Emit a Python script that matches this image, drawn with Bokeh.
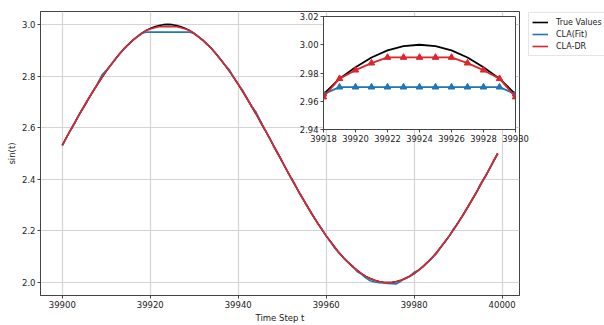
from bokeh.plotting import figure
from bokeh.models import Range1d, FixedTicker, Legend, LegendItem, PrintfTickFormatter
from bokeh.embed import file_html
from bokeh.resources import INLINE

# ---------------- data ----------------
time_steps = list(range(39900, 40000))

true_values = [
    2.531, 2.563, 2.594, 2.624, 2.655, 2.684, 2.713, 2.741, 2.768, 2.794,
    2.819, 2.842, 2.864, 2.885, 2.905, 2.922, 2.938, 2.952, 2.965, 2.976,
    2.984, 2.991, 2.996, 2.999, 3.000, 2.999, 2.996, 2.991, 2.984, 2.976,
    2.965, 2.952, 2.938, 2.922, 2.905, 2.885, 2.864, 2.842, 2.819, 2.794,
    2.768, 2.741, 2.713, 2.684, 2.655, 2.624, 2.594, 2.563, 2.531, 2.500,
    2.469, 2.437, 2.406, 2.376, 2.345, 2.316, 2.287, 2.259, 2.232, 2.206,
    2.181, 2.158, 2.136, 2.114, 2.095, 2.078, 2.062, 2.048, 2.035, 2.024,
    2.016, 2.009, 2.004, 2.001, 2.000, 2.001, 2.004, 2.009, 2.016, 2.024,
    2.035, 2.048, 2.062, 2.078, 2.095, 2.114, 2.136, 2.158, 2.181, 2.206,
    2.232, 2.259, 2.287, 2.316, 2.345, 2.376, 2.406, 2.437, 2.469, 2.500,
]

cla_fit = [
    2.531, 2.563, 2.594, 2.624, 2.655, 2.684, 2.713, 2.741, 2.770, 2.804,
    2.822, 2.842, 2.864, 2.885, 2.905, 2.922, 2.938, 2.952, 2.965, 2.970,
    2.970, 2.970, 2.970, 2.970, 2.970, 2.970, 2.970, 2.970, 2.970, 2.970,
    2.965, 2.952, 2.938, 2.922, 2.905, 2.885, 2.864, 2.842, 2.824, 2.794,
    2.768, 2.745, 2.713, 2.684, 2.662, 2.628, 2.594, 2.563, 2.531, 2.500,
    2.469, 2.437, 2.406, 2.376, 2.345, 2.316, 2.287, 2.259, 2.232, 2.209,
    2.181, 2.158, 2.132, 2.114, 2.095, 2.078, 2.065, 2.043, 2.033, 2.018,
    2.007, 2.002, 2.000, 1.999, 1.997, 1.996, 1.995, 2.006, 2.018, 2.026,
    2.040, 2.048, 2.062, 2.078, 2.095, 2.111, 2.136, 2.158, 2.181, 2.210,
    2.232, 2.259, 2.287, 2.316, 2.345, 2.380, 2.406, 2.437, 2.469, 2.500,
]

cla_dr = [
    2.531, 2.563, 2.594, 2.624, 2.655, 2.684, 2.713, 2.741, 2.768, 2.794,
    2.819, 2.842, 2.864, 2.885, 2.905, 2.922, 2.938, 2.952, 2.963, 2.976,
    2.982, 2.987, 2.991, 2.991, 2.991, 2.991, 2.991, 2.987, 2.982, 2.976,
    2.963, 2.952, 2.938, 2.922, 2.905, 2.885, 2.864, 2.842, 2.819, 2.794,
    2.768, 2.741, 2.713, 2.684, 2.655, 2.624, 2.594, 2.563, 2.531, 2.500,
    2.469, 2.437, 2.406, 2.376, 2.345, 2.316, 2.287, 2.259, 2.232, 2.206,
    2.181, 2.158, 2.136, 2.114, 2.095, 2.078, 2.062, 2.048, 2.035, 2.024,
    2.016, 2.009, 2.004, 2.001, 2.000, 2.001, 2.004, 2.009, 2.016, 2.024,
    2.035, 2.048, 2.062, 2.078, 2.095, 2.114, 2.136, 2.158, 2.181, 2.206,
    2.232, 2.259, 2.287, 2.316, 2.345, 2.376, 2.406, 2.437, 2.469, 2.500,
]

series_names = ["True Values", "CLA(Fit)", "CLA-DR"]
main_x_ticks = [39900, 39920, 39940, 39960, 39980, 40000]
main_y_ticks = [2.0, 2.2, 2.4, 2.6, 2.8, 3.0]
inset_x_ticks = [39918, 39920, 39922, 39924, 39926, 39928, 39930]
inset_y_ticks = [2.94, 2.96, 2.98, 3.00, 3.02]
inset_first, inset_last = 39918, 39930

# ---------------- styles ----------------
FONT = "DejaVu Sans"
C_TRUE, C_FIT, C_DR = "black", "#1f77b4", "#e0242a"
SPINE = "#444444"
GRID = "#d4d4d4"


def style_axes(fig, tick_size):
    for ax in (fig.xaxis, fig.yaxis):
        ax.axis_line_color = SPINE
        ax.major_tick_line_color = SPINE
        ax.major_tick_in = 0
        ax.major_tick_out = 3
        ax.minor_tick_line_color = None
        ax.major_label_text_font = FONT
        ax.major_label_text_font_size = tick_size
        ax.major_label_text_color = "#222222"
        ax.major_label_standoff = 2
        ax.axis_label_text_font = FONT
        ax.axis_label_text_font_size = "8.5px"
        ax.axis_label_text_font_style = "normal"
        ax.axis_label_text_color = "#222222"
        ax.axis_label_standoff = 2


# ---------------- main figure ----------------
p = figure(
    width=604, height=325,
    x_range=Range1d(39895.05, 40003.95), y_range=Range1d(1.95, 3.05),
    output_backend="svg", toolbar_location=None,
    min_border_left=40, min_border_right=85, min_border_top=11, min_border_bottom=28,
    x_axis_label="Time Step t", y_axis_label="sin(t)",
)
p.background_fill_color = "white"
p.border_fill_color = "white"
p.outline_line_color = SPINE
style_axes(p, "8.5px")
p.xaxis.ticker = FixedTicker(ticks=main_x_ticks)
p.yaxis.ticker = FixedTicker(ticks=main_y_ticks)
p.yaxis.formatter = PrintfTickFormatter(format="%.1f")
p.grid.grid_line_color = GRID
p.grid.grid_line_width = 1.2

p.line(time_steps, true_values, line_color=C_TRUE, line_width=1.6)
p.line(time_steps, cla_fit, line_color=C_FIT, line_width=1.6)
p.line(time_steps, cla_dr, line_color=C_DR, line_width=1.6)

# ---------------- inset (separate root, overlaid) ----------------
i0 = time_steps.index(inset_first)
i1 = time_steps.index(inset_last) + 1
ins_t = time_steps[i0:i1]

inset = figure(
    width=40 + 192 + 24, height=5 + 113 + 20,
    x_range=Range1d(39918, 39930), y_range=Range1d(2.94, 3.02),
    output_backend="svg", toolbar_location=None,
    min_border_left=40, min_border_right=24, min_border_top=5, min_border_bottom=20,
    styles={"position": "absolute", "left": "283px", "top": "11px"},
)
inset.background_fill_color = "white"
inset.border_fill_color = None
inset.border_fill_alpha = 0
inset.outline_line_color = SPINE
style_axes(inset, "8.4px")
inset.xaxis.ticker = FixedTicker(ticks=inset_x_ticks)
inset.yaxis.ticker = FixedTicker(ticks=inset_y_ticks)
inset.yaxis.formatter = PrintfTickFormatter(format="%.2f")
inset.grid.grid_line_color = None

inset.line(ins_t, true_values[i0:i1], line_color=C_TRUE, line_width=1.8)
inset.line(ins_t, cla_fit[i0:i1], line_color=C_FIT, line_width=1.8)
inset.scatter(ins_t, cla_fit[i0:i1], marker="triangle", size=6.5, color=C_FIT)
inset.line(ins_t, cla_dr[i0:i1], line_color=C_DR, line_width=1.8)
inset.scatter(ins_t, cla_dr[i0:i1], marker="triangle", size=6.5, color=C_DR)

# ---------------- legend (separate root, outside the axes) ----------------
# the series are drawn here only to give the legend its swatches; this
# panel's ranges keep them out of view
lg = figure(
    width=76, height=44, x_range=Range1d(0, 1), y_range=Range1d(0, 1),
    output_backend="svg", toolbar_location=None,
    x_axis_location=None, y_axis_location=None,
    min_border_left=0, min_border_right=0, min_border_top=0, min_border_bottom=0,
    styles={"position": "absolute", "left": "528px", "top": "12px"},
)
lg.grid.grid_line_color = None
lg.outline_line_color = None
lg.background_fill_color = None
lg.border_fill_color = None
k_true = lg.line(time_steps, true_values, line_color=C_TRUE, line_width=1.6)
k_fit = lg.line(time_steps, cla_fit, line_color=C_FIT, line_width=1.6)
k_dr = lg.line(time_steps, cla_dr, line_color=C_DR, line_width=1.6)
legend = Legend(
    items=[LegendItem(label=series_names[0], renderers=[k_true]),
           LegendItem(label=series_names[1], renderers=[k_fit]),
           LegendItem(label=series_names[2], renderers=[k_dr])],
    location="top_left",
    label_text_font=FONT, label_text_font_size="8px", label_text_color="#222222",
    glyph_width=16, glyph_height=12, label_height=12, label_standoff=8,
    spacing=0, padding=3, margin=0,
    border_line_color="#cccccc", border_line_width=1,
    background_fill_color="white", background_fill_alpha=0.85,
)
lg.add_layout(legend, "center")

open("out.html", "w").write(file_html([p, inset, lg], INLINE))
